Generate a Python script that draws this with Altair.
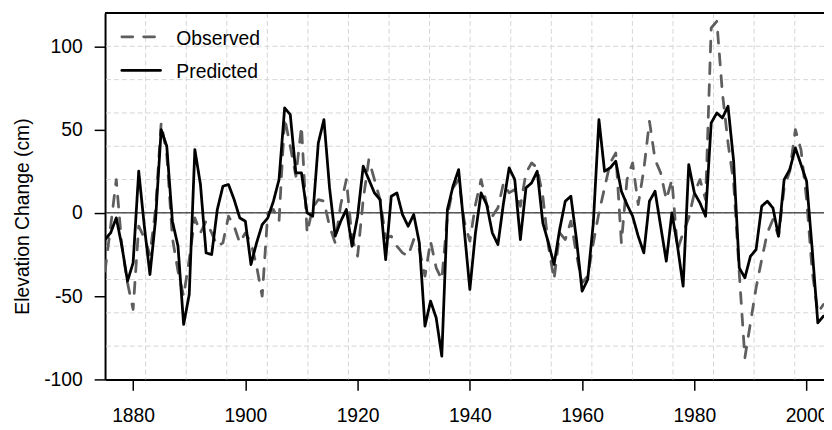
import altair as alt
import pandas as pd

years = list(range(1875, 2004))

observed = [
    -35, -8, 20, -20, -42, -58, -8, -15, -25, 2,        # 1875-1884
    54, 35, -15, -35, -50, -28, -3, -12, -5, -12,       # 1885-1894
    -20, -18, -2, -8, -18, -12, -18, -32, -50, 0,       # 1895-1904
    2, -5, 57, 40, 22, 52, -12, 3, 8, 7,                # 1905-1914
    -8, -18, 5, 20, -15, -26, 8, 32, 20, 8,             # 1915-1924
    -15, -14, -20, -24, -26, -16, -22, -38, -17, -33,   # 1925-1934
    -40, -2, 15, 20, -5, -17, 5, 20, 5, -2,             # 1935-1944
    3, 18, 12, 14, 4, 24, 30, 27, 10, -20,              # 1945-1954
    -40, -12, -16, -5, -25, -42, -38, -18, 0, 15,       # 1955-1964
    30, 36, -18, 20, 30, 5, 26, 55, 32, 24,             # 1965-1974
    8, 20, -22, -12, -3, 12, 20, 8, 111, 115,           # 1975-1984
    72, 42, 18, -36, -87, -66, -45, -28, -12, -4,       # 1985-1994
    -14, 15, 25, 50, 38, 8, -35, -60, -55,              # 1995-2003
]

predicted = [
    -16, -12, -3, -20, -41, -30, 25, -8, -37, -4,       # 1875-1884
    50, 40, -5, -20, -67, -49, 38, 17, -24, -25,        # 1885-1894
    2, 16, 17, 8, -3, -5, -31, -18, -7, -3,             # 1895-1904
    7, 20, 63, 59, 24, 24, 0, -2, 42, 56,               # 1905-1914
    15, -14, -5, 2, -20, -2, 28, 20, 12, 8,             # 1915-1924
    -28, 10, 12, -1, -8, -1, -18, -68, -53, -63,        # 1925-1934
    -86, 2, 16, 26, -10, -46, -12, 12, 5, -12,          # 1935-1944
    -19, 6, 27, 20, -16, 15, 18, 25, -6, -18,           # 1945-1954
    -31, -10, 7, 10, -16, -47, -40, -6, 56, 25,         # 1955-1964
    27, 31, 13, 5, -2, -14, -24, 7, 13, -8,             # 1965-1974
    -29, 0, -20, -44, 29, 12, 6, -2, 54, 60,            # 1975-1984
    57, 64, 31, -33, -39, -26, -22, 4, 7, 3,            # 1985-1994
    -14, 20, 26, 39, 29, 19, -22, -66, -62,             # 1995-2003
]

series_names = ["Observed", "Predicted"]
x_ticks = [1880, 1900, 1920, 1940, 1960, 1980, 2000]
y_ticks = [-100, -50, 0, 50, 100]
grid_y = [-80, -60, -40, -20, 0, 20, 40, 60, 80, 100]
grid_x = [1882.23, 1889.46, 1896.68, 1903.91, 1911.14, 1918.37, 1925.60,
          1932.82, 1940.05, 1947.28, 1954.51, 1961.74, 1968.96, 1976.19,
          1983.42, 1990.65, 1997.88]

FONT = "Liberation Sans"
W, H = 726, 370
GRAY = "#5e5e5e"

df = pd.DataFrame({
    "year": years * 2,
    "value": observed + predicted,
    "series": ["Observed"] * len(years) + ["Predicted"] * len(years),
})

xs = alt.Scale(domain=[1875, 2003.1], nice=False, zero=False)
ys = alt.Scale(domain=[-100, 120], nice=False, zero=False)

xaxis = alt.Axis(
    values=x_ticks, labelExpr="datum.value + ''", title=None, grid=False,
    domainColor="black", domainWidth=2, tickColor="black", tickWidth=1.5,
    tickSize=11, labelFontSize=19.5, labelFont=FONT, labelColor="black",
    labelPadding=16, labelFlush=False, labelOverlap=False)
yaxis = alt.Axis(
    values=y_ticks, labelExpr="datum.value + ''", title="Elevation Change (cm)", grid=False,
    domainColor="black", domainWidth=2, tickColor="black", tickWidth=1.5,
    tickSize=11, labelFontSize=19.5, labelFont=FONT, labelColor="black",
    labelPadding=12, labelOverlap=False,
    titleFont=FONT, titleFontSize=19.5, titleFontWeight="normal",
    titleColor="black", titleX=-83, titleY=205, titleAlign="center",
    titleBaseline="middle", titleAngle=270)

grid_style = dict(color="#d6d6d6", strokeWidth=1, strokeDash=[5, 3])

gy = alt.Chart(pd.DataFrame({"gy": grid_y})).mark_rule(**grid_style).encode(
    y=alt.Y("gy:Q", scale=ys, axis=yaxis)
)
gx = alt.Chart(pd.DataFrame({"gx": grid_x})).mark_rule(**grid_style).encode(
    x=alt.X("gx:Q", scale=xs, axis=xaxis)
)
zero = alt.Chart(pd.DataFrame({"z": [0]})).mark_rule(color="black", strokeWidth=1).encode(
    y=alt.Y("z:Q", scale=ys, axis=yaxis)
)

lines = alt.Chart(df).mark_line(strokeWidth=2.8, strokeCap="round", strokeJoin="round", clip=True).encode(
    x=alt.X("year:Q", scale=xs, axis=xaxis),
    y=alt.Y("value:Q", scale=ys, axis=yaxis),
    color=alt.Color("series:N", scale=alt.Scale(domain=series_names, range=[GRAY, "black"]), legend=None),
    strokeDash=alt.StrokeDash("series:N", scale=alt.Scale(domain=series_names, range=[[11, 11], [1, 0]]), legend=None),
)

one = pd.DataFrame({"a": [0]})
top = alt.Chart(one).mark_rule(color="black", strokeWidth=2).encode(
    x=alt.value(0), x2=alt.value(W), y=alt.value(0)
)

leg_obs = alt.Chart(one).mark_rule(color=GRAY, strokeWidth=2.8, strokeDash=[11, 11], strokeCap="round").encode(
    x=alt.value(17), x2=alt.value(56), y=alt.value(24)
)
leg_pred = alt.Chart(one).mark_rule(color="black", strokeWidth=2.8, strokeCap="round").encode(
    x=alt.value(17), x2=alt.value(56), y=alt.value(58)
)
txt_style = dict(align="left", baseline="middle", font=FONT, fontSize=19.5, color="black")
leg_t1 = alt.Chart(one).mark_text(text=series_names[0], **txt_style).encode(
    x=alt.value(72), y=alt.value(26)
)
leg_t2 = alt.Chart(one).mark_text(text=series_names[1], **txt_style).encode(
    x=alt.value(72), y=alt.value(60)
)

chart = alt.layer(gy, gx, zero, lines, top, leg_obs, leg_pred, leg_t1, leg_t2).properties(
    width=W, height=H,
    autosize=alt.AutoSizeParams(type="none"),
    padding={"left": 98, "top": 3, "right": 0, "bottom": 48},
).configure_view(strokeWidth=0).configure(background="white")

chart.save("out.html", embed_options={"renderer": "svg", "actions": False})
